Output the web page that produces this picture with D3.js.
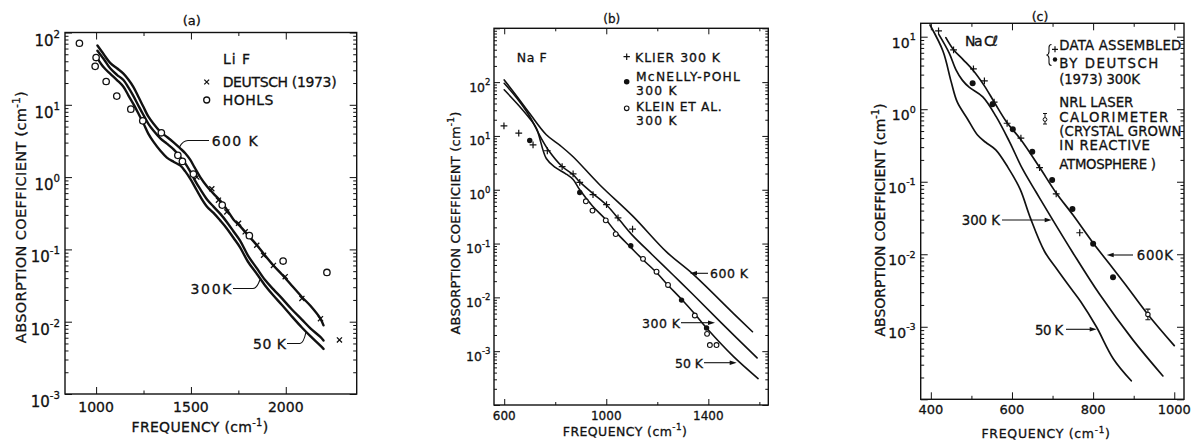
<!DOCTYPE html>
<html>
<head>
<meta charset="utf-8">
<script src="https://cdn.jsdelivr.net/npm/d3@7"></script>
<style>
  html, body { margin: 0; padding: 0; background: #fff; }
  svg { display: block; }
  text { font-family: "DejaVu Sans", sans-serif; fill: #111; stroke: #111; stroke-width: 0.3px; }
</style>
</head>
<body>
<svg id="fig" width="1191" height="442"></svg>
<script>
// ---------- (a) LiF : [frequency cm^-1, absorption cm^-1] ----------
const lif600K = [[1007,66],[1040,50],[1074,38],[1110,32],[1144,27],[1170,22.4],[1197,17.6],[1225,12.6],[1250,9.3],[1275,6.9],[1302,5.5],[1340,4.2],[1373,3.6],[1410,3.0],[1443,2.5],[1470,2.14],[1496,1.74],[1520,1.35],[1549,1.0],[1585,0.74],[1619,0.59],[1655,0.47],[1689,0.355],[1724,0.26],[1759,0.21],[1800,0.158],[1847,0.115],[1890,0.083],[1935,0.06],[1980,0.045],[2030,0.032],[2085,0.022],[2130,0.0166],[2181,0.0112],[2199,0.0089]];
const lif300K = [[1007,56],[1040,43],[1074,32],[1110,26],[1144,22],[1170,17.4],[1197,13.2],[1225,9.5],[1250,7.2],[1275,5.5],[1302,4.4],[1340,3.4],[1373,2.9],[1410,2.4],[1443,1.9],[1470,1.55],[1496,1.2],[1520,0.91],[1549,0.68],[1585,0.49],[1619,0.39],[1655,0.31],[1689,0.24],[1724,0.178],[1759,0.132],[1800,0.083],[1847,0.055],[1890,0.038],[1935,0.028],[1980,0.021],[2030,0.015],[2085,0.0107],[2130,0.0081],[2181,0.0062],[2199,0.0055]];
const lif50K = [[1007,44],[1040,33],[1074,27],[1110,22],[1144,17.8],[1170,13.5],[1197,10.2],[1225,7.4],[1250,5.5],[1275,4.0],[1302,3.1],[1340,2.3],[1373,1.86],[1410,1.62],[1443,1.45],[1470,1.2],[1496,0.95],[1520,0.74],[1549,0.54],[1585,0.39],[1619,0.32],[1655,0.25],[1689,0.195],[1724,0.145],[1759,0.107],[1800,0.068],[1847,0.046],[1890,0.032],[1935,0.023],[1980,0.017],[2030,0.012],[2085,0.0083],[2130,0.0063],[2181,0.0047],[2199,0.0042]];
const lifDeutsch = [[1531,1.0],[1610,0.69],[1645,0.48],[1689,0.33],[1751,0.23],[1786,0.175],[1847,0.114],[1883,0.083],[1935,0.06],[1997,0.042],[2085,0.021],[2183,0.011],[2283,0.0056]];
const lifHohls = [[912,71],[1000,45],[995,34],[1053,21],[1109,13.2],[1183,8.7],[1246,6.0],[1344,4.1],[1431,2.0],[1455,1.65],[1513,1.1],[1665,0.41],[1808,0.155],[1986,0.069],[2217,0.048]];

// ---------- (b) NaF ----------
const naf600K = [[600,110],[650,54],[700,26],[765,10.5],[820,6.6],[870,4.1],[974,1.24],[1105,0.32],[1236,0.07],[1340,0.027],[1497,0.0051],[1573,0.0023]];
const naf300K = [[600,95],[650,50],[700,23],[740,10],[775,5.3],[827,2.7],[870,1.9],[896,1.4],[948,0.85],[1001,0.52],[1053,0.27],[1101,0.145],[1180,0.062],[1262,0.026],[1340,0.0113],[1450,0.0034],[1591,0.00075]];
const naf50K = [[600,72],[650,40],[700,21],[726,14],[765,3.8],[800,2.6],[840,2.0],[870,1.55],[896,1.0],[946,0.5],[998,0.28],[1037,0.165],[1096,0.085],[1144,0.05],[1197,0.029],[1242,0.0168],[1295,0.0092],[1347,0.0049],[1393,0.0027],[1497,0.00081],[1595,0.00031]];
const nafKlier = [[599,15.4],[657,11.3],[713,6.8],[769,5.3],[827,2.7],[870,1.98],[896,1.37],[948,0.81],[1001,0.53],[1046,0.30],[1103,0.186]];
const nafMcNelly = [[700,8.2],[896,0.89],[1096,0.091],[1295,0.0089],[1393,0.0027]];
const nafKlein = [[920,0.61],[946,0.41],[998,0.27],[1037,0.15],[1144,0.052],[1197,0.030],[1242,0.017],[1347,0.0046],[1395,0.0021],[1406,0.0013],[1432,0.0013]];

// ---------- (c) NaCl ----------
const nacl600K = [[437,9.7],[456,6.6],[480,4.8],[505,3.4],[532,2.1],[556,1.26],[588,0.65],[622,0.38],[668,0.158],[709,0.07],[750,0.035],[800,0.0143],[840,0.0074],[880,0.0038],[935,0.00148],[1000,0.00055]];
const nacl300K = [[420,10.7],[445,6.0],[462,3.5],[478,2.5],[495,2.0],[528,1.48],[561,0.79],[594,0.355],[626,0.15],[660,0.071],[697,0.032],[750,0.0105],[816,0.0028],[898,0.00066],[972,0.00021]];
const nacl50K = [[398,14.5],[430,6.3],[450,2.4],[465,1.26],[490,0.74],[515,0.44],[535,0.35],[560,0.275],[590,0.158],[620,0.079],[645,0.032],[680,0.011],[710,0.0063],[740,0.0037],[770,0.0022],[808,0.001],[850,0.00036],[894,0.00018]];
const naclDeutschPlus = [[419,12],[456,6.6],[505,3.6],[532,2.46],[556,1.25],[588,0.64],[622,0.40],[668,0.157],[709,0.068],[767,0.0198]];
const naclDeutschDot = [[503,2.28],[552,1.17],[602,0.53],[650,0.26],[699,0.106],[749,0.042],[800,0.014],[849,0.0048]];
// NRL laser calorimeter: [frequency, value, low, high]
const naclNrl = [[935,0.00148,0.00125,0.00175]];

// ---------- tick labels ----------
const lifXTicks = [1000, 1500, 2000];
const lifXMinor = [1250, 1750];
const lifYExp = [2, 1, 0, -1, -2, -3];
const nafXTicks = [600, 1000, 1400];
const nafXMinor = [800, 1200, 1600];
const nafYExp = [2, 1, 0, -1, -2, -3];
const naclXTicks = [400, 600, 800, 1000];
const naclXMinor = [500, 700, 900];
const naclYExp = [1, 0, -1, -2, -3];

const INK = "#111";
const svg = d3.select("#fig");

// widen a lettered string to a given run length by spacing its characters
function fit(t, width) {
  if (!width) return t;
  const node = t.node();
  const w = node.getComputedTextLength();
  const n = node.textContent.length;
  if (n > 1) t.style("letter-spacing", ((width - w) / (n - 1)).toFixed(2) + "px");
  return t;
}

function logTicks(domain) {
  const major = [], minor = [];
  for (let e = -6; e <= 4; e++) {
    for (let m = 1; m < 10; m++) {
      const v = +(m * Math.pow(10, e)).toPrecision(6);
      if (v < domain[0] * 0.999 || v > domain[1] * 1.001) continue;
      (m === 1 ? major : minor).push(v);
    }
  }
  return { major, minor };
}

function tickAxis(g, axis, tr) {
  g.append("g").attr("transform", tr).call(axis)
    .call(a => a.select(".domain").remove())
    .call(a => a.selectAll("text").remove())
    .selectAll("line").attr("stroke", INK).attr("stroke-width", 1);
}

function panel(cfg) {
  const x = d3.scaleLinear().domain(cfg.xDomain).range([cfg.left, cfg.right]);
  const y = d3.scaleLog().domain(cfg.yDomain).range([cfg.bottom, cfg.top]);
  const g = svg.append("g");
  const lt = logTicks(cfg.yDomain);

  // inward ticks on all four sides
  tickAxis(g, d3.axisLeft(y).tickValues(lt.major).tickSize(-cfg.majorLen), `translate(${cfg.left},0)`);
  tickAxis(g, d3.axisLeft(y).tickValues(lt.minor).tickSize(-cfg.minorLen), `translate(${cfg.left},0)`);
  tickAxis(g, d3.axisRight(y).tickValues(lt.major).tickSize(-cfg.majorLen), `translate(${cfg.right},0)`);
  tickAxis(g, d3.axisRight(y).tickValues(lt.minor).tickSize(-cfg.minorLen), `translate(${cfg.right},0)`);
  tickAxis(g, d3.axisBottom(x).tickValues(cfg.xTicks).tickSize(-cfg.majorLen), `translate(0,${cfg.bottom})`);
  tickAxis(g, d3.axisBottom(x).tickValues(cfg.xMinor).tickSize(-cfg.minorLen), `translate(0,${cfg.bottom})`);
  tickAxis(g, d3.axisTop(x).tickValues(cfg.xTicks).tickSize(-cfg.majorLen), `translate(0,${cfg.top})`);
  tickAxis(g, d3.axisTop(x).tickValues(cfg.xMinor).tickSize(-cfg.minorLen), `translate(0,${cfg.top})`);

  // frame
  g.append("rect")
    .attr("x", cfg.left).attr("y", cfg.top)
    .attr("width", cfg.right - cfg.left).attr("height", cfg.bottom - cfg.top)
    .attr("fill", "none").attr("stroke", INK).attr("stroke-width", 1.4);

  // y tick labels 10^n
  g.selectAll(null).data(cfg.yExp).join("text")
    .attr("x", cfg.left - cfg.yLabelGap)
    .attr("y", d => y(Math.pow(10, d)) + cfg.yLabelDrop)
    .attr("text-anchor", "end")
    .attr("font-size", cfg.yLabelSize)
    .each(function (d) {
      const t = d3.select(this);
      t.append("tspan").text("10");
      t.append("tspan").attr("font-size", cfg.yLabelSize * 0.68).attr("dy", -cfg.supRise).text(String(d));
    });

  // x tick labels
  g.selectAll(null).data(cfg.xTicks).join("text")
    .attr("x", d => x(d)).attr("y", cfg.xLabelY)
    .attr("text-anchor", "middle").attr("font-size", cfg.xLabelSize)
    .text(d => d);

  // curves
  const line = d3.line().x(d => x(d[0])).y(d => y(d[1])).curve(d3.curveCatmullRom.alpha(0.5));
  cfg.curves.forEach(c => {
    g.append("path").datum(c).attr("d", line)
      .attr("fill", "none").attr("stroke", INK)
      .attr("stroke-width", cfg.curveWidth).attr("stroke-linejoin", "round").attr("stroke-linecap", "round");
  });

  return { g, x, y };
}

function crossPath(r) { return `M${-r},0H${r}M0,${-r}V${r}`; }

function plusMarks(g, data, x, y, r, rot, sw) {
  g.selectAll(null).data(data).join("path")
    .attr("d", crossPath(r))
    .attr("transform", d => `translate(${x(d[0])},${y(d[1])}) rotate(${rot})`)
    .attr("fill", "none").attr("stroke", INK).attr("stroke-width", sw);
}
function ringMarks(g, data, x, y, r, sw) {
  g.selectAll(null).data(data).join("circle")
    .attr("cx", d => x(d[0])).attr("cy", d => y(d[1])).attr("r", r)
    .attr("fill", "#fff").attr("stroke", INK).attr("stroke-width", sw);
}
function dotMarks(g, data, x, y, r) {
  g.selectAll(null).data(data).join("circle")
    .attr("cx", d => x(d[0])).attr("cy", d => y(d[1])).attr("r", r)
    .attr("fill", INK);
}

function label(x, y, txt, size, width, anchor) {
  const t = svg.append("text").attr("x", x).attr("y", y).attr("font-size", size)
    .attr("text-anchor", anchor || "start").text(txt);
  return fit(t, width);
}
function cmTitle(x, y, size, prefix, rotate, width) {
  const t = svg.append("text").attr("font-size", size).attr("text-anchor", "middle");
  if (rotate) t.attr("transform", `translate(${x},${y}) rotate(-90)`).attr("dy", "0.36em");
  else t.attr("x", x).attr("y", y);
  t.append("tspan").text(prefix + " (cm");
  t.append("tspan").attr("font-size", size * 0.7).attr("dy", -size * 0.42).text("-1");
  t.append("tspan").attr("dy", size * 0.42).text(")");
  return fit(t, width);
}
function leader(pathD, sw) {
  svg.append("path").attr("d", pathD).attr("fill", "none")
    .attr("stroke", INK).attr("stroke-width", sw || 1.1);
}
function arrow(x1, x2, yy) {
  // horizontal leader ending in a filled head at x2
  const dir = x2 > x1 ? 1 : -1;
  svg.append("line").attr("x1", x1).attr("x2", x2 - dir * 5).attr("y1", yy).attr("y2", yy)
    .attr("stroke", INK).attr("stroke-width", 1.1);
  svg.append("path")
    .attr("d", `M${x2},${yy}L${x2 - dir * 7},${yy - 2.3}L${x2 - dir * 7},${yy + 2.3}Z`)
    .attr("fill", INK);
}

// ===================== (a) LiF =====================
const A = panel({
  left: 65, right: 356.7, top: 32.5, bottom: 394,
  xDomain: [836, 2374], yDomain: [1e-3, 1e2],
  xTicks: lifXTicks, xMinor: lifXMinor, yExp: lifYExp,
  majorLen: 7, minorLen: 3.5,
  yLabelGap: 5, yLabelDrop: 13, yLabelSize: 15, supRise: 8,
  xLabelY: 412, xLabelSize: 14,
  curves: [lif600K, lif300K, lif50K], curveWidth: 2.4
});
plusMarks(A.g, lifDeutsch, A.x, A.y, 3.6, 45, 1.3);
ringMarks(A.g, lifHohls, A.x, A.y, 3.2, 1.3);

label(191.7, 24.5, "(a)", 13, 0, "middle");
label(223, 64, "Li F", 14, 27);
svg.append("path").attr("d", crossPath(3.4)).attr("transform", "translate(206.7,82) rotate(45)")
  .attr("fill", "none").attr("stroke", INK).attr("stroke-width", 1.3);
label(222.7, 87, "DEUTSCH (1973)", 14, 114);
svg.append("circle").attr("cx", 206.7).attr("cy", 100).attr("r", 3).attr("fill", "none")
  .attr("stroke", INK).attr("stroke-width", 1.3);
label(222.7, 105, "HOHLS", 14, 50.6);

label(211.7, 145.5, "600 K", 14, 46);
leader("M209,140.5H188Q183,140.5 179.5,147");
label(190.5, 293.5, "300K", 14, 41);
leader("M233,288.5H253Q257,288.5 260,279.5");
label(253, 348.5, "50 K", 14, 33);
leader("M287,343.5H300Q303.5,343.5 306,332");

cmTitle(200, 432, 14, "FREQUENCY", false, 136.6);
cmTitle(20.7, 217, 14.5, "ABSORPTION COEFFICIENT", true, 252);

// ===================== (b) NaF =====================
const B = panel({
  left: 494, right: 768.3, top: 28.3, bottom: 405,
  xDomain: [560, 1635], yDomain: [1e-4, 1e3],
  xTicks: nafXTicks, xMinor: nafXMinor, yExp: nafYExp,
  majorLen: 6, minorLen: 3,
  yLabelGap: 3.5, yLabelDrop: 9.5, yLabelSize: 12.5, supRise: 6.5,
  xLabelY: 419.5, xLabelSize: 12,
  curves: [naf600K, naf300K, naf50K], curveWidth: 1.6
});
plusMarks(B.g, nafKlier, B.x, B.y, 3.4, 0, 1.2);
dotMarks(B.g, nafMcNelly, B.x, B.y, 2.7);
ringMarks(B.g, nafKlein, B.x, B.y, 2.4, 1.1);

label(611.7, 22.5, "(b)", 12, 0, "middle");
label(516.7, 61.5, "Na F", 12.5, 30);
svg.append("path").attr("d", crossPath(3.2)).attr("transform", "translate(626.7,56.7)")
  .attr("fill", "none").attr("stroke", INK).attr("stroke-width", 1.2);
label(635, 61.5, "KLIER 300 K", 12.5, 85);
svg.append("circle").attr("cx", 626.7).attr("cy", 81.7).attr("r", 2.8).attr("fill", INK);
label(636, 80.5, "McNELLY-POHL", 12.3, 104);
label(636, 94.5, "300 K", 12.3, 40.7);
svg.append("circle").attr("cx", 626.7).attr("cy", 108.3).attr("r", 2.3).attr("fill", "none")
  .attr("stroke", INK).attr("stroke-width", 1.1);
label(636, 111, "KLEIN ET AL.", 12.3, 85.7);
label(636, 125, "300 K", 12.3, 40.7);

label(710, 278, "600 K", 12.5, 38);
arrow(708, 690, 273.3);
label(642, 327.5, "300 K", 12.5, 38);
arrow(681, 715, 322.7);
label(675, 367.5, "50 K", 12.5, 28);
arrow(704, 736.7, 362.7);

cmTitle(625, 435.5, 12.5, "FREQUENCY", false, 124);
cmTitle(455, 223, 13, "ABSORPTION COEFFICIENT", true, 223);

// ===================== (c) NaCl =====================
const C = panel({
  left: 920.7, right: 1184, top: 23.3, bottom: 399.3,
  xDomain: [375, 1024], yDomain: [1e-4, 15.3],
  xTicks: naclXTicks, xMinor: naclXMinor, yExp: naclYExp,
  majorLen: 7, minorLen: 3.5,
  yLabelGap: 5, yLabelDrop: 11, yLabelSize: 14, supRise: 7.5,
  xLabelY: 413.5, xLabelSize: 13,
  curves: [nacl600K, nacl300K, nacl50K], curveWidth: 1.7
});
plusMarks(C.g, naclDeutschPlus, C.x, C.y, 3.4, 0, 1.2);
dotMarks(C.g, naclDeutschDot, C.x, C.y, 3);
// NRL point with its error bar
const nrl = C.g.selectAll(null).data(naclNrl).join("g");
nrl.append("line")
  .attr("x1", d => C.x(d[0])).attr("x2", d => C.x(d[0]))
  .attr("y1", d => C.y(d[2])).attr("y2", d => C.y(d[3]))
  .attr("stroke", INK).attr("stroke-width", 1.1);
nrl.append("path")
  .attr("d", d => `M${C.x(d[0]) - 2.5},${C.y(d[2])}h5M${C.x(d[0]) - 2.5},${C.y(d[3])}h5`)
  .attr("stroke", INK).attr("stroke-width", 1.1);
nrl.append("circle").attr("cx", d => C.x(d[0])).attr("cy", d => C.y(d[1])).attr("r", 2.2)
  .attr("fill", "#fff").attr("stroke", INK).attr("stroke-width", 1.1);

label(1040, 21, "(c)", 12.5, 0, "middle");
label(965, 46, "Na C\u2113", 14, 33);
// legend: brace grouping the two Deutsch symbols
leader("M1051.5,44.5q-2.5,0 -2.5,3v4q0,3 -2.5,3.5q2.5,0.5 2.5,3.5v4q0,3 2.5,3", 1.1);
svg.append("path").attr("d", crossPath(3)).attr("transform", "translate(1055,49.3)")
  .attr("fill", "none").attr("stroke", INK).attr("stroke-width", 1.2);
svg.append("circle").attr("cx", 1055).attr("cy", 59.5).attr("r", 2.2).attr("fill", INK);
label(1059.3, 50, "DATA ASSEMBLED", 13.3, 122);
label(1059.3, 67.7, "BY DEUTSCH", 13.3, 99);
label(1059.3, 84.3, "(1973) 300K", 13.3, 80.7);
label(1059.3, 106.7, "NRL LASER", 13.3, 74);
label(1059.3, 121.7, "CALORIMETER", 13.3, 109);
label(1059.3, 136, "(CRYSTAL GROWN", 13.3, 122);
label(1059.3, 150, "IN REACTIVE", 13.3, 90.7);
label(1059.3, 169, "ATMOSPHERE )", 13.3, 96.7);
svg.append("line").attr("x1", 1045).attr("x2", 1045).attr("y1", 113.5).attr("y2", 124)
  .attr("stroke", INK).attr("stroke-width", 1);
svg.append("path").attr("d", "M1043,113.5h4M1043,124h4").attr("stroke", INK).attr("stroke-width", 1);
svg.append("circle").attr("cx", 1045).attr("cy", 119.5).attr("r", 1.9).attr("fill", "#fff")
  .attr("stroke", INK).attr("stroke-width", 1);

label(961.7, 225, "300 K", 13.3, 38.3);
arrow(1002, 1051.7, 220);
label(1035, 334.5, "50 K", 13.3, 28.3);
arrow(1066, 1096.7, 329.3);
label(1136.7, 260, "600K", 13.3, 36.3);
arrow(1133, 1106.7, 255);

cmTitle(1046, 438, 12.5, "FREQUENCY", false, 128.3);
cmTitle(880, 220, 14, "ABSORPTION COEFFICIENT", true, 233);
</script>
</body>
</html>
